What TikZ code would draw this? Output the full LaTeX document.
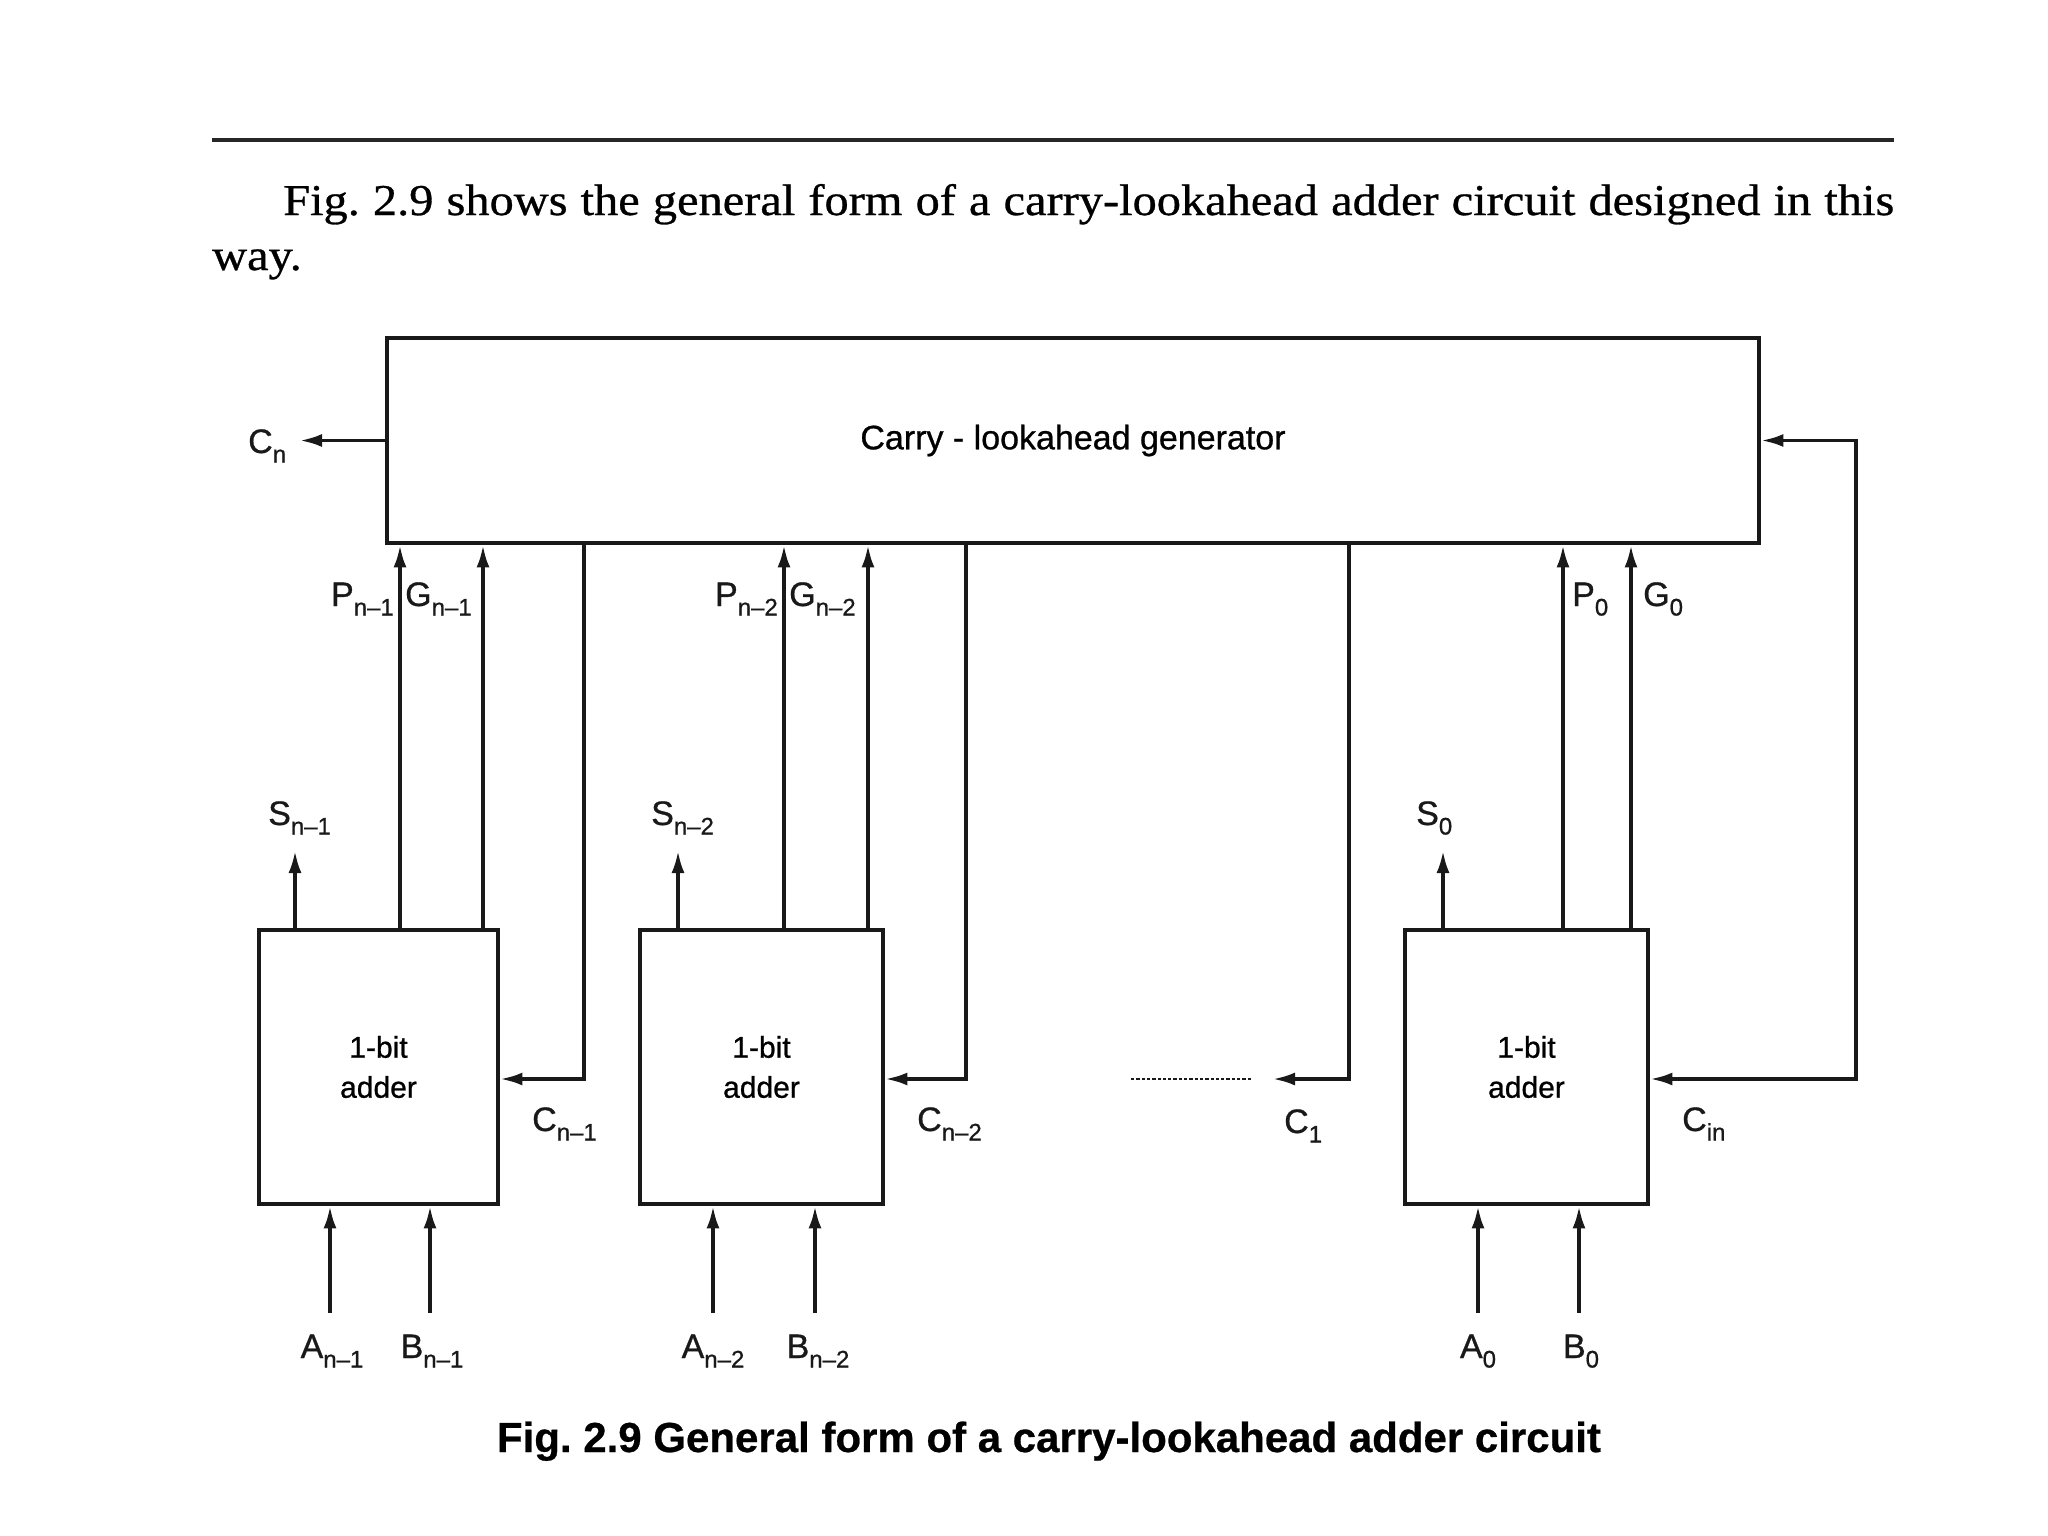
\documentclass[tikz,border=0pt]{standalone}
\usepackage{fontspec}
\setmainfont{Liberation Serif}
\newfontfamily\bodyfont[FakeStretch=1.1,FakeBold=0.7]{Liberation Serif}
\newfontfamily\labfont[FakeBold=0.8]{Liberation Sans}
\newfontfamily\capfont[FakeBold=0.6]{Liberation Sans}
\usetikzlibrary{arrows.meta}
\newcommand{\lblsub}[2]{#1\raisebox{-0.28em}{\fontsize{24}{24}\selectfont #2}}
\frenchspacing
\begin{document}
\begin{tikzpicture}[x=1pt,y=-1pt,
  wire/.style={line width=3.3pt, draw=black!90},
  arr/.style={wire,-{Latex[length=22pt,width=13pt]}},
  blk/.style={draw=black!90, line width=4.8pt, inner sep=0pt, align=center},
  lab/.style={font=\labfont\fontsize{34}{34}\selectfont, inner sep=0pt, text=black!90},
  addtxt/.style={font=\labfont\fontsize{30}{40}\selectfont},
]
\useasboundingbox (0,0) rectangle (2048,1536);

% header rule and text
\coordinate (rl) at (212,140);
\coordinate (rr) at (1894,140);
\draw[line width=4.5pt, black!85] (rl) -- (rr);
\node[anchor=base west, inner sep=0pt] (t1) at (283,215)
  {\bodyfont\fontsize{44}{44}\selectfont\makebox[1611pt][s]{Fig. 2.9 shows the general form of a carry-lookahead adder circuit designed in this}};
\node[anchor=base west, inner sep=0pt] (t2) at (212,270)
  {\bodyfont\fontsize{44}{44}\selectfont way.};

% blocks
\node[blk, minimum width=1372pt, minimum height=205pt, font=\labfont\fontsize{34}{34}\selectfont] (gen) at (1073,440.5) {Carry - lookahead generator};
\node[blk, minimum width=239pt, minimum height=274pt, addtxt] (a1) at (378.5,1067) {1-bit\\adder};
\node[blk, minimum width=243pt, minimum height=274pt, addtxt] (a2) at (761.5,1067) {1-bit\\adder};
\node[blk, minimum width=243pt, minimum height=274pt, addtxt] (a3) at (1526.5,1067) {1-bit\\adder};

% x positions of wires
\coordinate (xP1) at (400,0);
\coordinate (xG1) at (483,0);
\coordinate (xC1) at (584,0);
\coordinate (xP2) at (784,0);
\coordinate (xG2) at (868,0);
\coordinate (xC2) at (966,0);
\coordinate (xCa) at (1349,0);
\coordinate (xP0) at (1563,0);
\coordinate (xG0) at (1631,0);
\coordinate (xCin) at (1856,0);
\coordinate (cy) at (0,1079);
\coordinate (cnend) at (300,440.5);
\coordinate (c1end) at (1273,1079);
\coordinate (dotl) at (1131,1079);
\coordinate (dotr) at (1251,1079);

% C_n
\draw[arr] (gen.west) -- (cnend);
\node[lab, anchor=base west] (lcn) at (248,453) {\lblsub{C}{n}};

% P / G wires
\draw[arr] (xP1 |- a1.north) -- (xP1 |- gen.south);
\draw[arr] (xG1 |- a1.north) -- (xG1 |- gen.south);
\draw[arr] (xP2 |- a2.north) -- (xP2 |- gen.south);
\draw[arr] (xG2 |- a2.north) -- (xG2 |- gen.south);
\draw[arr] (xP0 |- a3.north) -- (xP0 |- gen.south);
\draw[arr] (xG0 |- a3.north) -- (xG0 |- gen.south);
\node[lab, anchor=base east] (lp1) at (394,606) {\lblsub{P}{n–1}};
\node[lab, anchor=base west] (lg1) at (405,606) {\lblsub{G}{n–1}};
\node[lab, anchor=base east] (lp2) at (778,606) {\lblsub{P}{n–2}};
\node[lab, anchor=base west] (lg2) at (789,606) {\lblsub{G}{n–2}};
\node[lab, anchor=base west] (lp0) at (1572,606) {\lblsub{P}{0}};
\node[lab, anchor=base west] (lg0) at (1643,606) {\lblsub{G}{0}};

% carries from generator to adders
\draw[arr] (xC1 |- gen.south) |- (a1.east |- cy);
\draw[arr] (xC2 |- gen.south) |- (a2.east |- cy);
\draw[arr] (xCa |- gen.south) |- (c1end);
\draw[wire, dotted, line width=2.2pt] (dotl) -- (dotr);
\draw[wire, {Latex[length=22pt,width=13pt]}-{Latex[length=22pt,width=13pt]}] (gen.east) -| (xCin |- cy) -- (a3.east |- cy);
\node[lab, anchor=base west] (lc1) at (532,1131) {\lblsub{C}{n–1}};
\node[lab, anchor=base west] (lc2) at (917,1131) {\lblsub{C}{n–2}};
\node[lab, anchor=base west] (lca) at (1284,1133) {\lblsub{C}{1}};
\node[lab, anchor=base west] (lcin) at (1682,1131) {\lblsub{C}{in}};

% sum outputs
\coordinate (s1) at (295,851);
\coordinate (s2) at (678,851);
\coordinate (s0) at (1443,851);
\draw[arr] (s1 |- a1.north) -- (s1);
\draw[arr] (s2 |- a2.north) -- (s2);
\draw[arr] (s0 |- a3.north) -- (s0);
\node[lab, anchor=base west] (ls1) at (268,825) {\lblsub{S}{n–1}};
\node[lab, anchor=base west] (ls2) at (651,825) {\lblsub{S}{n–2}};
\node[lab, anchor=base west] (ls0) at (1416,825) {\lblsub{S}{0}};

% inputs
\coordinate (ia1) at (330,1313);
\coordinate (ib1) at (430,1313);
\coordinate (ia2) at (713,1313);
\coordinate (ib2) at (815,1313);
\coordinate (ia0) at (1478,1313);
\coordinate (ib0) at (1579,1313);
\draw[arr] (ia1) -- (ia1 |- a1.south);
\draw[arr] (ib1) -- (ib1 |- a1.south);
\draw[arr] (ia2) -- (ia2 |- a2.south);
\draw[arr] (ib2) -- (ib2 |- a2.south);
\draw[arr] (ia0) -- (ia0 |- a3.south);
\draw[arr] (ib0) -- (ib0 |- a3.south);
\node[lab, anchor=base] (la1) at (332,1358) {\lblsub{A}{n–1}};
\node[lab, anchor=base] (lb1) at (432,1358) {\lblsub{B}{n–1}};
\node[lab, anchor=base] (la2) at (713,1358) {\lblsub{A}{n–2}};
\node[lab, anchor=base] (lb2) at (818,1358) {\lblsub{B}{n–2}};
\node[lab, anchor=base] (la0) at (1478,1358) {\lblsub{A}{0}};
\node[lab, anchor=base] (lb0) at (1581,1358) {\lblsub{B}{0}};

% caption
\node[anchor=base, inner sep=0pt, font=\capfont\bfseries\fontsize{42}{42}\selectfont] (cap) at (1049,1452)
  {Fig. 2.9 General form of a carry-lookahead adder circuit};
\end{tikzpicture}
\end{document}
